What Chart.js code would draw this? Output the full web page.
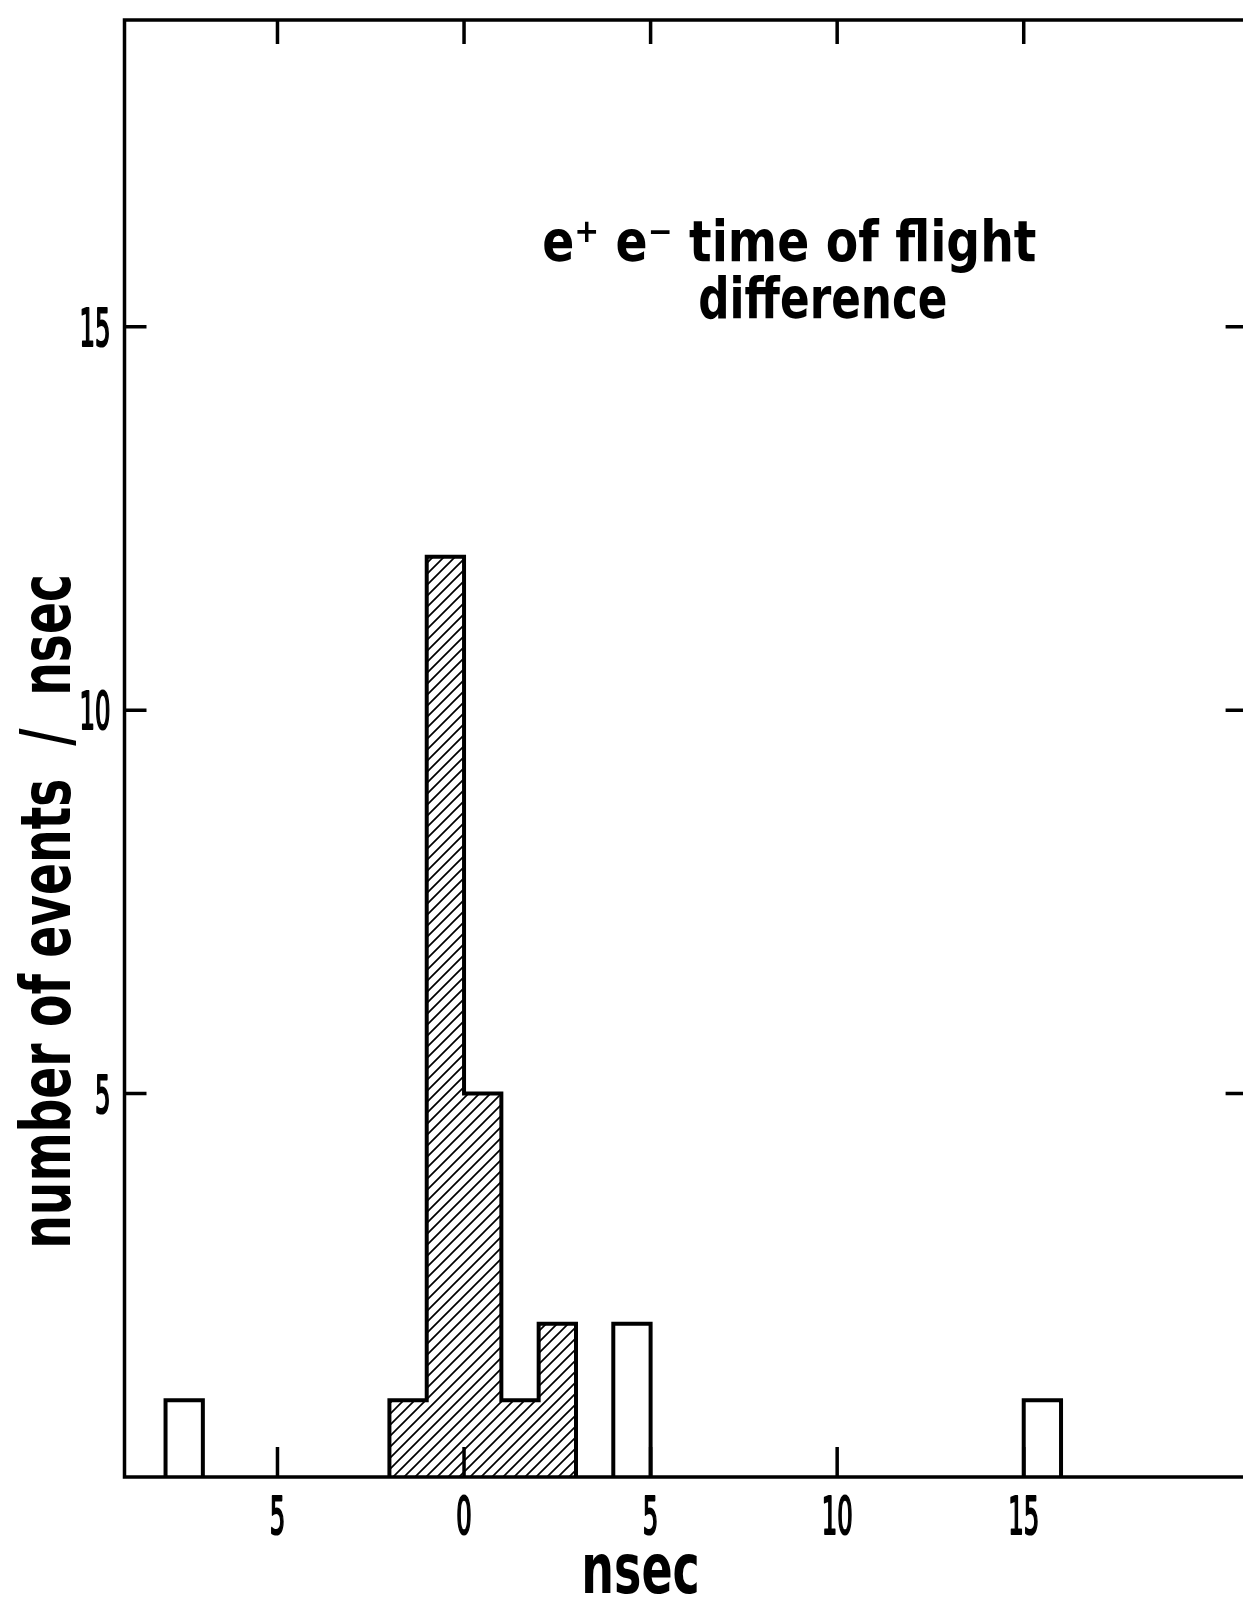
<!DOCTYPE html>
<html>
<head>
<meta charset="utf-8">
<script src="https://cdn.jsdelivr.net/npm/chart.js@4.4.1/dist/chart.umd.min.js"></script>
<style>
  html, body { margin: 0; padding: 0; background: #fff; overflow: hidden; }
  #tof { display: block; }
</style>
</head>
<body>
<canvas id="tof" width="1260" height="1600"></canvas>
<script>
// histogram bins, 1 nsec wide
const hatchedEdges = [-2, -1, 0, 1, 2, 3];
const hatchedCounts = [1, 12, 5, 1, 2];
const openStarts = [-8, 4, 15];
const openCounts = [1, 2, 1];
const binWidth = 1;

const xTickValues = [-5, 0, 5, 10, 15];
const xTickLabels = ["5", "0", "5", "10", "15"];
const yTickValues = [5, 10, 15];
const yTickLabels = ["5", "10", "15"];

const titleLines = ["e\u207A e\u207B time of flight", "difference"];
const xTitle = "nsec";
const yTitle = "number of events  /  nsec";

// outline of the shaded block (one connected step shape)
const hatchedOutline = [{ x: hatchedEdges[0], y: 0 }];
hatchedCounts.forEach((c, i) => {
    hatchedOutline.push({ x: hatchedEdges[i], y: c });
    hatchedOutline.push({ x: hatchedEdges[i + 1], y: c });
});
hatchedOutline.push({ x: hatchedEdges[hatchedEdges.length - 1], y: 0 });

// open bins, separated by gaps
const openOutline = [];
openStarts.forEach((lo, i) => {
    const hi = lo + binWidth;
    openOutline.push({ x: lo, y: 0 }, { x: lo, y: openCounts[i] },
                     { x: hi, y: openCounts[i] }, { x: hi, y: 0 }, { x: hi, y: null });
});

function makeHatch() {
    const s = 11;
    const c = document.createElement("canvas");
    c.width = s; c.height = s;
    const g = c.getContext("2d");
    g.strokeStyle = "#000";
    g.lineWidth = 1.7;
    g.beginPath();
    g.moveTo(0, s); g.lineTo(s, 0);
    g.moveTo(-2, 2); g.lineTo(2, -2);
    g.moveTo(s - 2, s + 2); g.lineTo(s + 2, s - 2);
    g.stroke();
    return document.getElementById("tof").getContext("2d").createPattern(c, "repeat");
}

const FONT = "'DejaVu Sans Condensed', 'DejaVu Sans', sans-serif";

// draw text so its ink spans exactly targetW starting at x0
function fitText(ctx, text, x0, base, targetW) {
    ctx.textAlign = "left";
    ctx.textBaseline = "alphabetic";
    const m = ctx.measureText(text);
    const ink = m.actualBoundingBoxLeft + m.actualBoundingBoxRight;
    ctx.save();
    ctx.translate(x0, base);
    ctx.scale(targetW / ink, 1);
    ctx.fillText(text, m.actualBoundingBoxLeft, 0);
    ctx.restore();
}

// condensed tick digit, pen-like stroke
function tickText(ctx, text, x, base, align) {
    ctx.save();
    ctx.translate(x, base);
    ctx.scale(0.52, 1);
    ctx.textAlign = align;
    ctx.fillText(text, 0, 0);
    ctx.strokeText(text, 0, 0);
    ctx.restore();
}

const framePlugin = {
    id: "frame",
    afterDatasetsDraw(chart) {
        const ctx = chart.ctx;
        const a = chart.chartArea;
        const xs = chart.scales.x, ys = chart.scales.y;
        ctx.save();
        ctx.strokeStyle = "#000";
        ctx.fillStyle = "#000";
        ctx.lineCap = "butt";

        // frame
        ctx.lineWidth = 3.5;
        ctx.strokeRect(a.left, a.top, a.right - a.left, a.bottom - a.top);

        // inward ticks
        ctx.beginPath();
        xTickValues.forEach(v => {
            const px = xs.getPixelForValue(v);
            ctx.moveTo(px, a.bottom); ctx.lineTo(px, a.bottom - 30);
            ctx.moveTo(px, a.top); ctx.lineTo(px, a.top + 24);
        });
        yTickValues.forEach(v => {
            const py = ys.getPixelForValue(v);
            ctx.moveTo(a.left, py); ctx.lineTo(a.left + 22, py);
            ctx.moveTo(a.right, py); ctx.lineTo(a.right - 22, py);
        });
        ctx.stroke();

        // tick labels
        ctx.font = "52px " + FONT;
        ctx.textBaseline = "alphabetic";
        ctx.lineWidth = 2.2;
        ctx.lineJoin = "round";
        xTickValues.forEach((v, i) => {
            tickText(ctx, xTickLabels[i], xs.getPixelForValue(v), a.bottom + 57, "center");
        });
        yTickValues.forEach((v, i) => {
            tickText(ctx, yTickLabels[i], a.left - 14, ys.getPixelForValue(v) + 19, "right");
        });

        // axis titles
        ctx.font = "bold 69px " + FONT;
        fitText(ctx, xTitle, 585, 1593, 112);
        ctx.save();
        ctx.translate(70, 1245);
        ctx.rotate(-Math.PI / 2);
        fitText(ctx, yTitle, 0, 0, 668);
        ctx.restore();

        // annotation
        ctx.font = "bold 57px " + FONT;
        fitText(ctx, titleLines[0], 544, 261, 492);
        fitText(ctx, titleLines[1], 700, 318, 246);
        ctx.restore();
    }
};

new Chart(document.getElementById("tof"), {
    type: "line",
    data: {
        datasets: [
            {
                data: hatchedOutline,
                borderColor: "#000",
                borderWidth: 4,
                borderJoinStyle: "miter",
                backgroundColor: makeHatch(),
                fill: "origin",
                pointRadius: 0,
                tension: 0
            },
            {
                data: openOutline,
                borderColor: "#000",
                borderWidth: 4,
                borderJoinStyle: "miter",
                fill: false,
                spanGaps: false,
                pointRadius: 0,
                tension: 0
            }
        ]
    },
    options: {
        responsive: false,
        animation: false,
        devicePixelRatio: 1,
        layout: { padding: { top: 20, right: 12.4, left: 0, bottom: 0 } },
        plugins: { legend: { display: false }, tooltip: { enabled: false } },
        scales: {
            x: {
                type: "linear",
                min: -9.1,
                max: 21,
                grid: { display: false },
                border: { display: false },
                ticks: { display: false },
                afterBuildTicks: s => { s.ticks = xTickValues.map(v => ({ value: v })); },
                afterFit: s => { s.height = 123; }
            },
            y: {
                type: "linear",
                min: 0,
                max: 19,
                grid: { display: false },
                border: { display: false },
                ticks: { display: false },
                afterBuildTicks: s => { s.ticks = yTickValues.map(v => ({ value: v })); },
                afterFit: s => { s.width = 124.5; }
            }
        }
    },
    plugins: [framePlugin]
});
</script>
</body>
</html>
